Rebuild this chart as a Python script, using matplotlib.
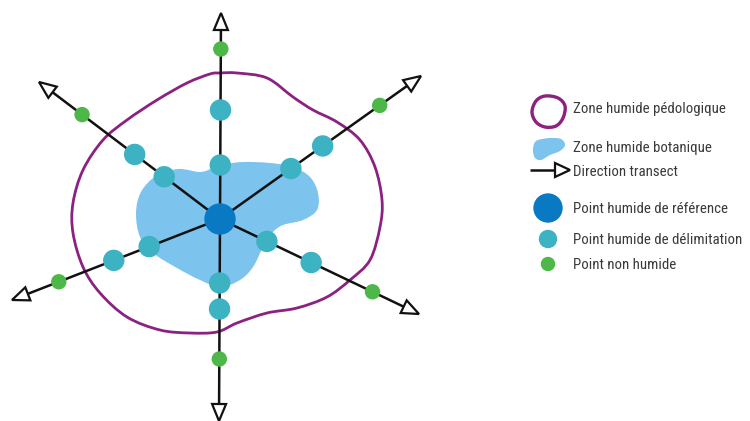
import matplotlib.pyplot as plt
import numpy as np
from matplotlib.path import Path
from matplotlib.patches import PathPatch, Circle, Polygon
from matplotlib import font_manager

# pick a narrow family if there is one
names = {f.name for f in font_manager.fontManager.ttflist}
narrow = [n for n in ['Liberation Sans Narrow', 'Roboto Condensed', 'DejaVu Sans Condensed'] if n in names]
plt.rcParams['font.family'] = narrow + ['Roboto', 'DejaVu Sans']

# centre of the transects (pixel coordinates, y downwards)
center = (220, 219)

# transect tips
tips_x = [221, 421, 419, 219, 12, 39]
tips_y = [13, 76, 314, 421, 300, 82]

# distances from centre along each transect
cyan_dist = [[54, 109], [87, 126], [52, 101], [64, 90], [76, 114], [70, 107]]
green_dist = [170, 196, 169, 140, 173, 173]

# outlines
pedo_x = [220, 237, 267, 293, 313, 337, 360, 375, 382, 380, 370, 350, 327, 297, 267,
          237, 217, 190, 160, 127, 100, 83, 73, 73, 83, 103, 127, 157, 187, 210]
pedo_y = [73, 73, 78, 97, 110, 122, 140, 167, 200, 227, 260, 280, 297, 308, 313,
          323, 332, 333, 330, 317, 293, 267, 233, 203, 170, 140, 120, 100, 83, 74]

bota_x = [220, 243, 270, 293, 310, 318, 317, 303, 283, 272, 263, 253, 240, 220, 200,
          177, 153, 140, 136, 141, 156, 178, 200, 213]
bota_y = [165, 162, 163, 167, 177, 193, 210, 220, 225, 233, 247, 267, 280, 287, 280,
          268, 253, 237, 213, 192, 176, 169, 172, 168]

# legend icons
ring_x = [545, 558, 565, 563, 556, 545, 536, 532, 536]
ring_y = [96, 98, 106, 118, 126, 127, 122, 112, 101]
blob_x = [538, 550, 561, 565, 560, 550, 541, 535, 533, 534]
blob_y = [140, 138, 139, 145, 151, 155, 160, 158, 151, 144]

labels = ['Zone humide pédologique', 'Zone humide botanique', 'Direction transect',
          'Point humide de référence', 'Point humide de délimitation', 'Point non humide']
label_y = [109, 148, 172, 209, 240, 265]

PURPLE = '#8b2180'
BLUE_ZONE = '#7cc3ee'
DARK_BLUE = '#0a79c4'
CYAN = '#3db2c3'
GREEN = '#4db848'


def smooth_closed(xs, ys):
    pts = np.column_stack([xs, ys]).astype(float)
    n = len(pts)
    verts = [pts[0]]
    codes = [Path.MOVETO]
    for i in range(n):
        p0, p1, p2, p3 = pts[i - 1], pts[i], pts[(i + 1) % n], pts[(i + 2) % n]
        verts += [p1 + (p2 - p0) / 6, p2 - (p3 - p1) / 6, p2]
        codes += [Path.CURVE4] * 3
    return Path(verts, codes)


def arrow_head(ax, tip, u, length=17, half=7):
    tip = np.array(tip, float)
    base = tip - length * u
    n = np.array([-u[1], u[0]])
    tri = Polygon([tip, base + half * n, base - half * n], closed=True,
                  facecolor='white', edgecolor='#111111', lw=1.6,
                  joinstyle='miter', zorder=4)
    ax.add_patch(tri)
    return base


fig = plt.figure(figsize=(7.5, 4.21), dpi=100)
ax = fig.add_axes([0, 0, 1, 1])
ax.set_xlim(0, 750)
ax.set_ylim(421, 0)
ax.axis('off')

ax.add_patch(PathPatch(smooth_closed(bota_x, bota_y), facecolor=BLUE_ZONE,
                       edgecolor='none', zorder=1))
ax.add_patch(PathPatch(smooth_closed(pedo_x, pedo_y), facecolor='none',
                       edgecolor=PURPLE, lw=2.0, zorder=2))

c = np.array(center, float)
for tx, ty, cd, gd in zip(tips_x, tips_y, cyan_dist, green_dist):
    v = np.array([tx, ty]) - c
    u = v / np.linalg.norm(v)
    base = arrow_head(ax, (tx, ty), u)
    ax.plot([c[0], base[0]], [c[1], base[1]], color='#111111', lw=1.8,
            solid_capstyle='butt', zorder=3)
    for d in cd:
        p = c + d * u
        ax.add_patch(Circle(p, 10, color=CYAN, zorder=5))
    p = c + gd * u
    ax.add_patch(Circle(p, 7, color=GREEN, zorder=5))

ax.add_patch(Circle(c, 15, color=DARK_BLUE, zorder=6))

# legend
ax.add_patch(PathPatch(smooth_closed(ring_x, ring_y), facecolor='none',
                       edgecolor=PURPLE, lw=2.4, zorder=2))
ax.add_patch(PathPatch(smooth_closed(blob_x, blob_y), facecolor=BLUE_ZONE,
                       edgecolor='none', zorder=1))
ax.plot([530, 555], [170, 170], color='#111111', lw=1.8, solid_capstyle='butt')
arrow_head(ax, (570, 170), np.array([1.0, 0.0]), length=15, half=7)
ax.add_patch(Circle((548, 208), 14, color=DARK_BLUE))
ax.add_patch(Circle((548, 239), 8.5, color=CYAN))
ax.add_patch(Circle((548, 264), 6.5, color=GREEN))

for lab, ly in zip(labels, label_y):
    t = ax.text(573, ly, lab, fontsize=10.7, color='#3a3a3a', va='center', ha='left')
    if not narrow:
        t.set_fontsize(9.5)

fig.savefig('out.png', dpi=100)
